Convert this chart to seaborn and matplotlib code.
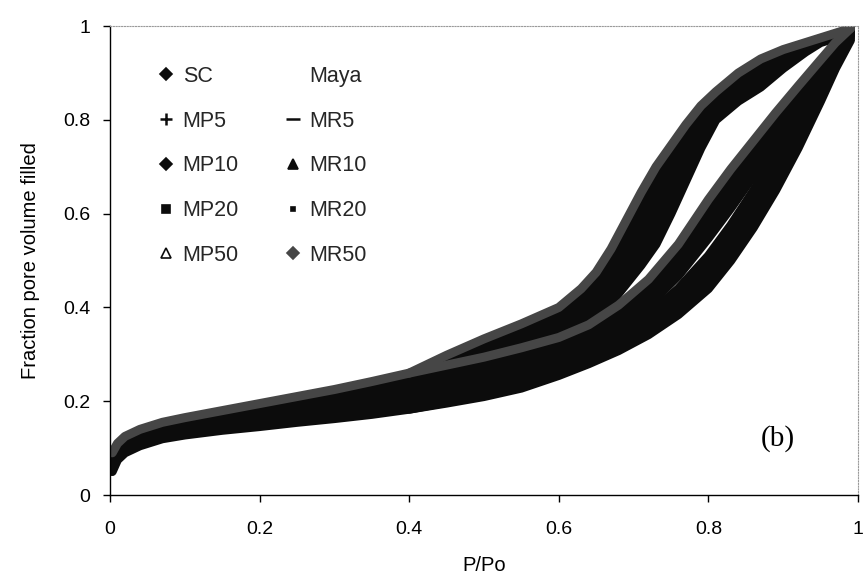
import numpy as np
import pandas as pd
import matplotlib
matplotlib.use("Agg")
import matplotlib.pyplot as plt
import seaborn as sns
from matplotlib.lines import Line2D
from matplotlib.ticker import FixedLocator, FuncFormatter

# ---------------- data ----------------
ads_x = [0.003, 0.01, 0.02, 0.04, 0.07, 0.1, 0.15, 0.2, 0.25, 0.3, 0.35, 0.4,
         0.45, 0.5, 0.55, 0.6, 0.64, 0.68, 0.72, 0.76, 0.8, 0.83, 0.86, 0.89,
         0.92, 0.95, 0.97, 0.99]
des_x = [0.99, 0.97, 0.95, 0.93, 0.9, 0.87, 0.84, 0.81, 0.79, 0.77, 0.75,
         0.73, 0.71, 0.69, 0.67, 0.65, 0.63, 0.6, 0.55, 0.5, 0.45, 0.4]

SC_ads   = [0.05, 0.075, 0.09, 0.105, 0.12, 0.128, 0.138, 0.146, 0.155, 0.163, 0.172, 0.183, 0.196, 0.21, 0.228,
            0.255, 0.28, 0.308, 0.342, 0.385, 0.44, 0.5, 0.57, 0.65, 0.74, 0.84, 0.91, 0.97]
MP5_ads  = [0.055, 0.08, 0.095, 0.11, 0.124, 0.133, 0.143, 0.152, 0.161, 0.17, 0.18, 0.191, 0.204, 0.219, 0.237,
            0.262, 0.288, 0.318, 0.355, 0.402, 0.462, 0.522, 0.595, 0.675, 0.762, 0.855, 0.92, 0.975]
MP10_ads = [0.06, 0.085, 0.1, 0.116, 0.13, 0.139, 0.149, 0.158, 0.167, 0.176, 0.186, 0.198, 0.212, 0.228, 0.247,
            0.272, 0.298, 0.33, 0.37, 0.42, 0.485, 0.548, 0.62, 0.7, 0.785, 0.87, 0.93, 0.98]
MP20_ads = [0.065, 0.09, 0.105, 0.12, 0.134, 0.144, 0.154, 0.164, 0.174, 0.184, 0.195, 0.208, 0.222, 0.238, 0.257,
            0.28, 0.308, 0.342, 0.385, 0.44, 0.51, 0.575, 0.648, 0.725, 0.805, 0.882, 0.938, 0.985]
MP50_ads = [0.07, 0.095, 0.11, 0.126, 0.14, 0.15, 0.161, 0.171, 0.182, 0.193, 0.205, 0.219, 0.234, 0.251, 0.27,
            0.295, 0.324, 0.36, 0.405, 0.468, 0.548, 0.612, 0.68, 0.752, 0.826, 0.895, 0.945, 0.99]
MR5_ads  = [0.075, 0.098, 0.114, 0.13, 0.144, 0.154, 0.166, 0.177, 0.189, 0.2, 0.213, 0.228, 0.244, 0.262, 0.282,
            0.307, 0.336, 0.374, 0.422, 0.488, 0.568, 0.633, 0.7, 0.77, 0.84, 0.905, 0.95, 0.99]
MR10_ads = [0.08, 0.102, 0.118, 0.134, 0.148, 0.158, 0.171, 0.184, 0.197, 0.21, 0.223, 0.239, 0.256, 0.273, 0.293,
            0.318, 0.346, 0.386, 0.436, 0.505, 0.59, 0.655, 0.72, 0.785, 0.852, 0.913, 0.955, 0.99]
MR20_ads = [0.085, 0.106, 0.121, 0.137, 0.152, 0.162, 0.176, 0.19, 0.204, 0.218, 0.232, 0.249, 0.266, 0.283, 0.303,
            0.327, 0.355, 0.396, 0.448, 0.52, 0.61, 0.675, 0.738, 0.8, 0.862, 0.92, 0.96, 0.995]
MR50_ads = [0.09, 0.11, 0.125, 0.14, 0.155, 0.165, 0.18, 0.195, 0.21, 0.225, 0.242, 0.26, 0.277, 0.294, 0.314,
            0.336, 0.363, 0.405, 0.46, 0.535, 0.63, 0.695, 0.755, 0.815, 0.872, 0.928, 0.965, 0.995]

SC_des   = [0.98, 0.975, 0.965, 0.945, 0.91, 0.87, 0.84, 0.8, 0.74, 0.67, 0.6, 0.535, 0.49, 0.45, 0.41, 0.375, 0.345, 0.3, 0.255, 0.222, 0.198, 0.183]
MP5_des  = [0.982, 0.977, 0.967, 0.948, 0.915, 0.877, 0.847, 0.809, 0.752, 0.685, 0.617, 0.553, 0.505, 0.463, 0.422, 0.385, 0.353, 0.308, 0.262, 0.23, 0.206, 0.191]
MP10_des = [0.985, 0.978, 0.968, 0.951, 0.92, 0.884, 0.855, 0.818, 0.765, 0.7, 0.635, 0.57, 0.52, 0.476, 0.434, 0.396, 0.362, 0.318, 0.272, 0.24, 0.215, 0.198]
MP20_des = [0.987, 0.979, 0.969, 0.953, 0.925, 0.892, 0.864, 0.828, 0.778, 0.716, 0.655, 0.59, 0.537, 0.49, 0.447, 0.408, 0.373, 0.33, 0.285, 0.252, 0.226, 0.208]
MP50_des = [0.99, 0.98, 0.97, 0.955, 0.93, 0.899, 0.872, 0.837, 0.79, 0.731, 0.672, 0.608, 0.553, 0.505, 0.46, 0.42, 0.385, 0.345, 0.3, 0.267, 0.24, 0.219]
MR5_des  = [0.99, 0.981, 0.971, 0.958, 0.935, 0.907, 0.879, 0.843, 0.8, 0.745, 0.69, 0.628, 0.57, 0.52, 0.475, 0.435, 0.4, 0.36, 0.32, 0.286, 0.257, 0.228]
MR10_des = [0.992, 0.982, 0.972, 0.96, 0.94, 0.914, 0.886, 0.849, 0.81, 0.76, 0.706, 0.648, 0.59, 0.538, 0.492, 0.45, 0.414, 0.375, 0.338, 0.305, 0.272, 0.239]
MR20_des = [0.994, 0.983, 0.973, 0.962, 0.945, 0.922, 0.893, 0.855, 0.82, 0.775, 0.725, 0.672, 0.615, 0.56, 0.508, 0.463, 0.427, 0.387, 0.352, 0.32, 0.285, 0.249]
MR50_des = [0.995, 0.985, 0.975, 0.965, 0.95, 0.93, 0.9, 0.86, 0.83, 0.79, 0.745, 0.7, 0.645, 0.585, 0.525, 0.475, 0.44, 0.4, 0.365, 0.333, 0.298, 0.26]

series_names = ["SC", "MP5", "MP10", "MP20", "MP50", "MR5", "MR10", "MR20", "MR50"]
ads_values = [SC_ads, MP5_ads, MP10_ads, MP20_ads, MP50_ads, MR5_ads, MR10_ads, MR20_ads, MR50_ads]
des_values = [SC_des, MP5_des, MP10_des, MP20_des, MP50_des, MR5_des, MR10_des, MR20_des, MR50_des]

legend_labels = ["SC", "MP5", "MP10", "MP20", "MP50", "Maya", "MR5", "MR10", "MR20", "MR50"]
x_ticks = [0, 0.2, 0.4, 0.6, 0.8, 1]
y_ticks = [0, 0.2, 0.4, 0.6, 0.8, 1]
x_label = "P/Po"
y_label = "Fraction pore volume filled"
panel_label = "(b)"

# ---------------- styling ----------------
sns.set_theme(style="white")
plt.rcParams["font.family"] = ["Liberation Sans", "DejaVu Sans"]

styles = {
    "SC":   dict(color="#0c0c0c", marker="D", ms=6),
    "MP5":  dict(color="#0c0c0c", marker="+", ms=8),
    "MP10": dict(color="#0c0c0c", marker="D", ms=6),
    "MP20": dict(color="#0c0c0c", marker="s", ms=6),
    "MP50": dict(color="#0c0c0c", marker="^", ms=7),
    "MR5":  dict(color="#0c0c0c", marker="_", ms=10),
    "MR10": dict(color="#0c0c0c", marker="^", ms=7),
    "MR20": dict(color="#0c0c0c", marker="s", ms=3.5),
    "MR50": dict(color="#464646", marker="D", ms=6),
}

frames = []
for name, ya, yd in zip(series_names, ads_values, des_values):
    frames.append(pd.DataFrame({"x": ads_x, "y": ya, "series": name, "branch": "ads"}))
    frames.append(pd.DataFrame({"x": des_x, "y": yd, "series": name, "branch": "des"}))
df = pd.concat(frames, ignore_index=True)

fig = plt.figure(figsize=(8.64, 5.81), dpi=100)
ax = fig.add_axes([0.1273, 0.148, 0.8657, 0.807])

draw_order = ["MR20", "MR10", "MR5", "MP50", "MP20", "MP10", "MP5", "SC", "MR50"]
for name in draw_order:
    st = styles[name]
    for br in ["ads", "des"]:
        sub = df[(df.series == name) & (df.branch == br)]
        sns.lineplot(data=sub, x="x", y="y", sort=False, estimator=None,
                     color=st["color"], lw=6.5, ax=ax, legend=False,
                     solid_capstyle="round", solid_joinstyle="round")

ax.set_xlim(0, 1)
ax.set_ylim(0, 1)
ax.xaxis.set_major_locator(FixedLocator(x_ticks))
ax.yaxis.set_major_locator(FixedLocator(y_ticks))
fmt = FuncFormatter(lambda v, p: f"{v:g}")
ax.xaxis.set_major_formatter(fmt)
ax.yaxis.set_major_formatter(fmt)
ax.tick_params(axis="both", which="major", direction="out", length=5, width=1,
               colors="black", labelsize=14, bottom=True, left=True)
ax.tick_params(axis="y", pad=9)
ax.tick_params(axis="x", pad=14)
ax.set_xlabel(x_label, fontsize=14.5, color="black", labelpad=13)
ax.set_ylabel(y_label, fontsize=14.5, color="black", labelpad=17)

for s in ["left", "bottom"]:
    ax.spines[s].set_color("black")
    ax.spines[s].set_linewidth(1.0)
for s in ["top", "right"]:
    ax.spines[s].set_color("#9a9a9a")
    ax.spines[s].set_linewidth(0.8)
    ax.spines[s].set_linestyle((0, (1, 1.5)))

ax.text(0.893, 0.12, panel_label, fontsize=21, family=["Liberation Serif", "DejaVu Serif"],
        ha="center", va="center", color="black")

# legend
def h(name):
    st = styles[name]
    mfc = "white" if name == "MP50" else st["color"]
    return Line2D([], [], linestyle="None", marker=st["marker"], color=st["color"],
                  markerfacecolor=mfc, markeredgewidth=1.8 if st["marker"] in "+_" else 1.2,
                  markersize=st["ms"])

blank = Line2D([], [], linestyle="None", marker=None)
handles = [h("SC"), h("MP5"), h("MP10"), h("MP20"), h("MP50"),
           blank, h("MR5"), h("MR10"), h("MR20"), h("MR50")]
ax.legend(handles, legend_labels, loc="upper left", bbox_to_anchor=(0.064, 0.915), ncol=2,
          frameon=False, fontsize=15.5, labelspacing=1.1, handlelength=0.8,
          handletextpad=0.35, columnspacing=2.1, borderaxespad=0, borderpad=0)

fig.savefig("out.png", dpi=100, facecolor="white")
